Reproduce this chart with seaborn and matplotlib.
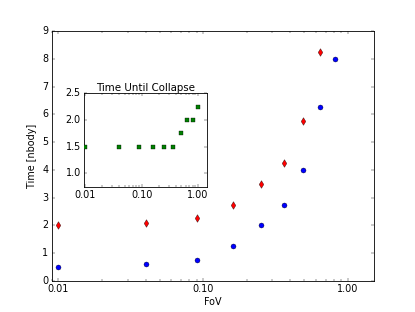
"""
Collapse time vs field of view, with inset for time until collapse.
"""

import numpy as np
import pandas as pd
import matplotlib
matplotlib.use('Agg')
import matplotlib.pyplot as plt
import seaborn as sns
from matplotlib.ticker import FixedLocator, FormatStrFormatter, LogLocator, NullFormatter

# Main panel data
fov = [0.01, 0.04, 0.09, 0.16, 0.25, 0.36, 0.49, 0.64, 0.81]
time_blue = [0.5, 0.6, 0.75, 1.25, 2.0, 2.75, 4.0, 6.25, 8.0]
fov_red = [0.01, 0.04, 0.09, 0.16, 0.25, 0.36, 0.49, 0.64]
time_red = [2.0, 2.1, 2.25, 2.75, 3.5, 4.25, 5.75, 8.25]

# Inset data
fov_inset = [0.01, 0.04, 0.09, 0.16, 0.25, 0.36, 0.49, 0.64, 0.81, 1.0]
collapse = [1.5, 1.5, 1.5, 1.5, 1.5, 1.5, 1.75, 2.0, 2.0, 2.25]

plt.style.use('classic')
plt.rcParams['font.family'] = ['DejaVu Sans']
plt.rcParams['font.size'] = 6.9
plt.rcParams['axes.linewidth'] = 0.6
plt.rcParams['xtick.major.size'] = 2.2
plt.rcParams['ytick.major.size'] = 2.2
plt.rcParams['xtick.minor.size'] = 1.1
plt.rcParams['ytick.minor.size'] = 1.1
plt.rcParams['xtick.major.width'] = 0.3
plt.rcParams['ytick.major.width'] = 0.3
plt.rcParams['xtick.minor.width'] = 0.3
plt.rcParams['xtick.major.pad'] = 2.5
plt.rcParams['ytick.major.pad'] = 2.5


def style_log_x(ax):
    ax.set_xscale('log')
    ax.xaxis.set_major_locator(FixedLocator([0.01, 0.1, 1.0]))
    ax.xaxis.set_major_formatter(FormatStrFormatter('%.2f'))
    ax.xaxis.set_minor_locator(LogLocator(base=10, subs=np.arange(2, 10)))
    ax.xaxis.set_minor_formatter(NullFormatter())


fig = plt.figure(figsize=(4.15, 3.12), dpi=100, facecolor='white')
ax = fig.add_axes([0.125, 0.1, 0.775, 0.8])
ax.set_facecolor('white')

df_blue = pd.DataFrame({'fov': fov, 'time': time_blue})
df_red = pd.DataFrame({'fov': fov_red, 'time': time_red})
sns.scatterplot(data=df_blue, x='fov', y='time', ax=ax, marker='o', color='blue',
                edgecolor='black', linewidth=0.25, s=13, zorder=3)
sns.scatterplot(data=df_red, x='fov', y='time', ax=ax, marker='d', color='red',
                edgecolor='black', linewidth=0.25, s=15, zorder=3)

style_log_x(ax)
ax.set_xlim(0.009, 1.5)
ax.set_ylim(0, 9)
ax.set_yticks(range(0, 10))
ax.set_xlabel('FoV')
ax.set_ylabel('Time [nbody]')
ax.xaxis.labelpad = 2
ax.yaxis.labelpad = 4

# Inset
axin = fig.add_axes([0.203, 0.402, 0.296, 0.299])
axin.set_facecolor('white')
df_in = pd.DataFrame({'fov': fov_inset, 'collapse': collapse})
sns.scatterplot(data=df_in, x='fov', y='collapse', ax=axin, marker='s', color='green',
                edgecolor='black', linewidth=0.25, s=11, zorder=3)
style_log_x(axin)
axin.set_xlim(0.0095, 1.45)
axin.set_ylim(0.75, 2.5)
axin.set_yticks([1.0, 1.5, 2.0, 2.5])
axin.set_xlabel('')
axin.set_ylabel('')
axin.set_title('Time Until Collapse', fontsize=7.4, pad=2)

fig.savefig('out.png', dpi=100, facecolor='white')
